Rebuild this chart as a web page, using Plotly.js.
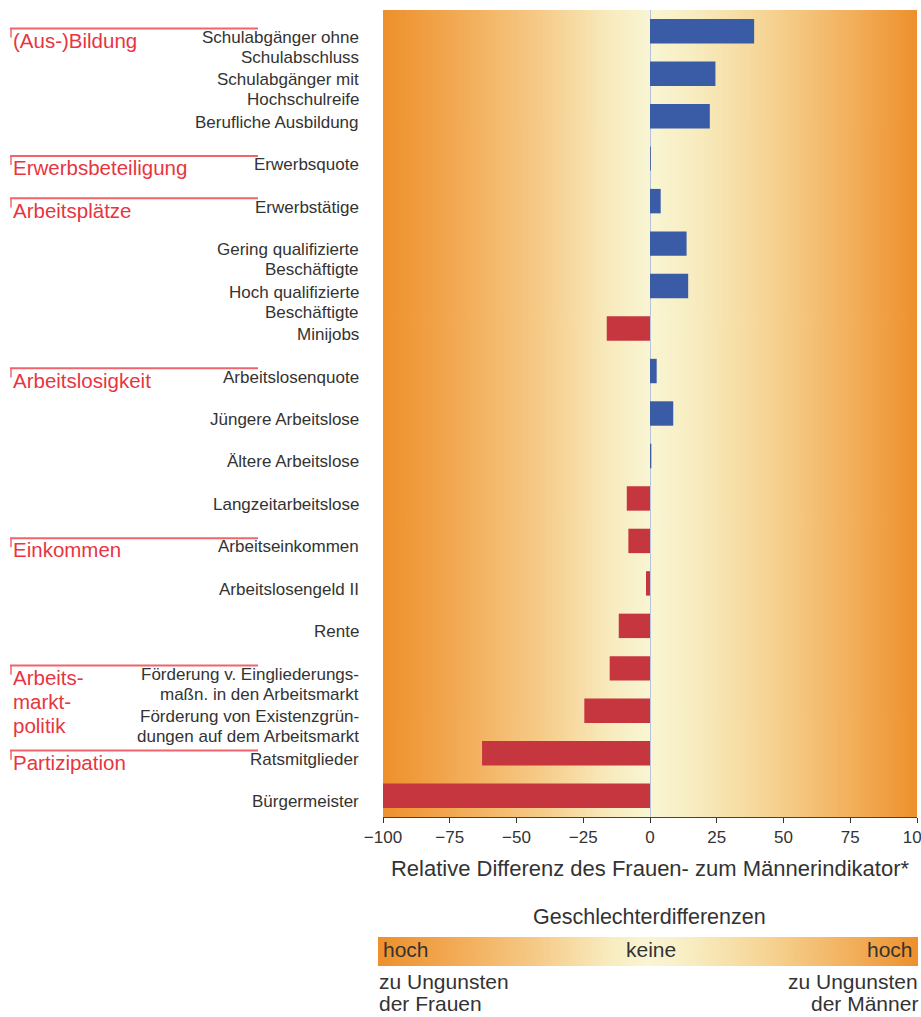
<!DOCTYPE html>
<html><head><meta charset="utf-8">
<script src="https://cdn.plot.ly/plotly-3.0.1.min.js"></script>
<style>html,body{margin:0;padding:0;background:#fff;}#chart{width:921px;height:1017px;}</style>
</head><body><div id="chart"></div>
<script>
// ---- data ----
const categories = [
  "Schulabgänger ohne<br>Schulabschluss",
  "Schulabgänger mit<br>Hochschulreife",
  "Berufliche Ausbildung",
  "Erwerbsquote",
  "Erwerbstätige",
  "Gering qualifizierte<br>Beschäftigte",
  "Hoch qualifizierte<br>Beschäftigte",
  "Minijobs",
  "Arbeitslosenquote",
  "Jüngere Arbeitslose",
  "Ältere Arbeitslose",
  "Langzeitarbeitslose",
  "Arbeitseinkommen",
  "Arbeitslosengeld II",
  "Rente",
  "Förderung v. Eingliederungs-<br>maßn. in den Arbeitsmarkt",
  "Förderung von Existenzgrün-<br>dungen auf dem Arbeitsmarkt",
  "Ratsmitglieder",
  "Bürgermeister"
];
const values = [39, 24.5, 22.4, 0.3, 4, 13.7, 14.3, -16.2, 2.5, 8.7, 0.5, -8.7, -8.1, -1.5, -11.7, -15.1, -24.6, -62.9, -100];
const groupNames = ["(Aus-)Bildung", "Erwerbsbeteiligung", "Arbeitsplätze", "Arbeitslosigkeit", "Einkommen", "Arbeits-<br>markt-<br>politik", "Partizipation"];
const groupStart = [0, 3, 4, 8, 12, 15, 17];
const xTicks = [-100, -75, -50, -25, 0, 25, 50, 75, 100];
const xTitle = "Relative Differenz des Frauen- zum Männerindikator*";
const legendTitle = "Geschlechterdifferenzen";
const legendLabels = ["hoch", "keine", "hoch"];
const legendNotes = ["zu Ungunsten<br>der Frauen", "zu Ungunsten<br>der Männer"];

// ---- style ----
const FONT = '"Liberation Sans", Arial, sans-serif';
const BLUE = '#3a5ba6', RED = '#c6363f', GROUPRED = '#e8353f', LINERED = '#f0646c', TXT = '#333';
const W = 921, H = 1017, ML = 383, MR = 4, MT = 10, MB = 200;
const PW = W - ML - MR, PH = H - MT - MB;
const px2x = p => (p - ML) / PW;            // pixel x -> paper x
const py2y = p => (H - MB - p) / PH;        // pixel y -> paper y

function gradientURL() {
  const c = document.createElement('canvas');
  c.width = 600; c.height = 4;
  const g = c.getContext('2d');
  const gr = g.createLinearGradient(0, 0, 600, 0);
  const stops = [[0, 'rgb(238,144,44)'], [0.12, 'rgb(242,166,78)'], [0.3, 'rgb(246,204,138)'],
    [0.42, 'rgb(248,234,188)'], [0.5, 'rgb(249,246,212)'], [0.58, 'rgb(248,237,193)'],
    [0.72, 'rgb(246,212,148)'], [0.88, 'rgb(242,175,90)'], [1, 'rgb(238,144,44)']];
  stops.forEach(s => gr.addColorStop(s[0], s[1]));
  g.fillStyle = gr; g.fillRect(0, 0, 600, 4);
  return c.toDataURL('image/png');
}
const grad = gradientURL();

const trace = {
  type: 'bar', orientation: 'h',
  x: values, y: categories,
  marker: { color: values.map(v => v >= 0 ? BLUE : RED), line: { width: 0 } },
  width: 0.575, hoverinfo: 'x+y', showlegend: false
};

const annotations = [];
const shapes = [];
// category labels: one annotation per text line, tight line spacing
categories.forEach((c, i) => {
  c.split('<br>').forEach((line, j) => {
    annotations.push({ xref: 'paper', yref: 'y', x: px2x(361), y: i, xanchor: 'right', yanchor: 'middle',
      yshift: -(6 + 20 * j), text: line, showarrow: false,
      font: { family: FONT, size: 17, color: TXT } });
  });
});
// group labels with red bracket lines
groupNames.forEach((g, k) => {
  const i = groupStart[k];
  g.split('<br>').forEach((line, j) => {
    annotations.push({ xref: 'paper', yref: 'y', x: px2x(11), y: i, xanchor: 'left', yanchor: 'middle',
      yshift: -(9 + 24 * j), text: line, showarrow: false,
      font: { family: FONT, size: 20.5, color: GROUPRED } });
  });
  shapes.push({ type: 'line', xref: 'paper', yref: 'y', x0: px2x(10), x1: px2x(258), y0: i - 0.065, y1: i - 0.065,
    line: { color: LINERED, width: 2 } });
  shapes.push({ type: 'line', xref: 'paper', yref: 'y', x0: px2x(11), x1: px2x(11), y0: i - 0.065, y1: i + 0.15,
    line: { color: LINERED, width: 1.5 } });
});
// legend texts
const LF = { family: FONT, size: 21, color: TXT };
annotations.push({ xref: 'paper', yref: 'paper', x: px2x(649), y: py2y(917), xanchor: 'center', yanchor: 'middle',
  text: legendTitle, showarrow: false, font: { family: FONT, size: 21.5, color: TXT } });
annotations.push({ xref: 'paper', yref: 'paper', x: px2x(381), y: py2y(950), xanchor: 'left', yanchor: 'middle',
  text: legendLabels[0], showarrow: false, font: LF });
annotations.push({ xref: 'paper', yref: 'paper', x: px2x(651), y: py2y(950), xanchor: 'center', yanchor: 'middle',
  text: legendLabels[1], showarrow: false, font: LF });
annotations.push({ xref: 'paper', yref: 'paper', x: px2x(915), y: py2y(950), xanchor: 'right', yanchor: 'middle',
  text: legendLabels[2], showarrow: false, font: LF });
legendNotes[0].split('<br>').forEach((line, j) => {
  annotations.push({ xref: 'paper', yref: 'paper', x: px2x(377), y: py2y(981 + 23 * j), xanchor: 'left', yanchor: 'middle',
    text: line, showarrow: false, font: LF });
});
legendNotes[1].split('<br>').forEach((line, j) => {
  annotations.push({ xref: 'paper', yref: 'paper', x: px2x(920), y: py2y(981 + 23 * j), xanchor: 'right', yanchor: 'middle',
    text: line, showarrow: false, font: LF });
});

const layout = {
  width: W, height: H,
  margin: { l: ML, r: MR, t: MT, b: MB, pad: 0 },
  paper_bgcolor: '#fff', plot_bgcolor: 'rgba(0,0,0,0)',
  font: { family: FONT, color: TXT },
  xaxis: {
    range: [-100, 100], tickvals: xTicks, ticktext: xTicks.map(v => v < 0 ? '\u2212' + Math.abs(v) : String(v)),
    ticks: 'outside', ticklen: 5, tickcolor: '#333', showline: true, linecolor: '#444', linewidth: 1,
    showgrid: false, zeroline: true, zerolinecolor: '#b9c1d6', zerolinewidth: 1,
    ticklabeloverflow: 'allow',
    tickfont: { family: FONT, size: 17, color: TXT },
    title: { text: xTitle, standoff: 14, font: { family: FONT, size: 22, color: TXT } },
    fixedrange: true
  },
  yaxis: {
    type: 'category', range: [18.5, -0.5], showticklabels: false, ticks: '', showgrid: false,
    zeroline: false, showline: false, fixedrange: true
  },
  images: [
    { source: grad, xref: 'paper', yref: 'paper', x: 0, y: 1, sizex: 1, sizey: 1, sizing: 'stretch',
      xanchor: 'left', yanchor: 'top', layer: 'below' },
    { source: grad, xref: 'paper', yref: 'paper', x: px2x(378), y: py2y(937), sizex: 540 / PW, sizey: 29 / PH,
      sizing: 'stretch', xanchor: 'left', yanchor: 'top', layer: 'below' }
  ],
  shapes: shapes,
  annotations: annotations
};

Plotly.newPlot('chart', [trace], layout, { displayModeBar: false, staticPlot: true });
</script>
</body></html>
